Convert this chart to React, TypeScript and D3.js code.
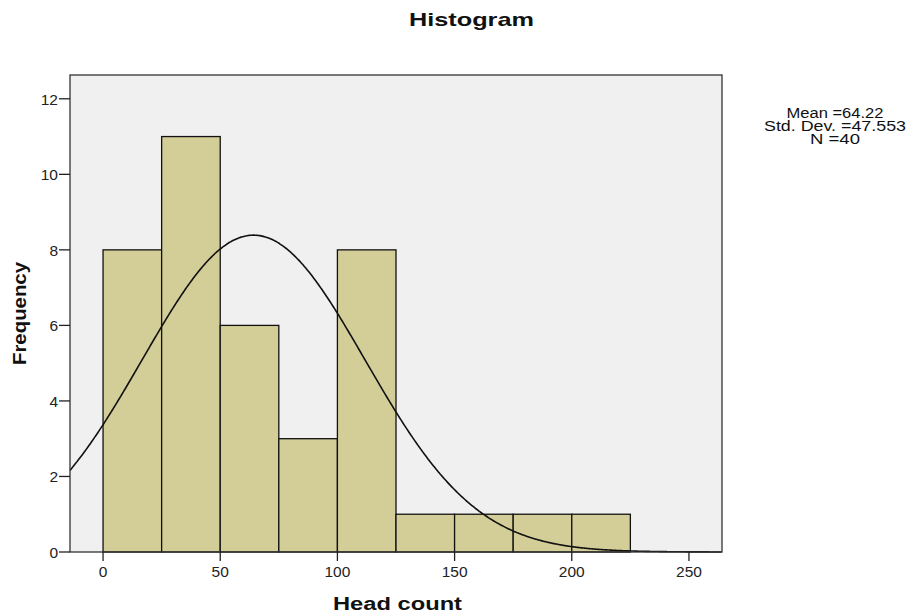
import * as d3 from "d3";

const binStarts = [0, 25, 50, 75, 100, 125, 150, 175, 200];
const binWidth = 25;
const counts = [8, 11, 6, 3, 8, 1, 1, 1, 1];
const xTicks = [0, 50, 100, 150, 200, 250];
const yTicks = [0, 2, 4, 6, 8, 10, 12];
const mean = 64.22;
const stdDev = 47.553;
const n = 40;
const statLines = ["Mean =64.22", "Std. Dev. =47.553", "N =40"];
const statWidths = [97, 142, 50];

const W = 908;
const H = 616;
const left = 70;
const right = 722;
const top = 75;
const bottom = 552;

const App = () => {
  const x = d3.scaleLinear().domain([-14.1, 264.1]).range([left, right]);
  const y = d3.scaleLinear().domain([0, 12.63]).range([bottom, top]);

  // normal curve scaled to the histogram
  const pdf = (v: number) =>
    (n * binWidth) / (stdDev * Math.sqrt(2 * Math.PI)) *
    Math.exp(-0.5 * ((v - mean) / stdDev) ** 2);
  const curvePts = d3.range(-14.1, 264.1, 0.5).map((v) => [v, pdf(v)] as [number, number]);
  const line = d3
    .line<[number, number]>()
    .x((d) => x(d[0]))
    .y((d) => y(d[1]))
    .curve(d3.curveBasis);

  const font = "'Liberation Sans', Arial, sans-serif";

  return (
    <svg
      width={W}
      height={H}
      style={{ position: "absolute", left: 0, top: 0, background: "#fff" }}
      fontFamily={font}
    >
      <text
        x={471.5}
        y={26}
        textAnchor="middle"
        fontSize={18.5}
        fontWeight="bold"
        fill="#111"
        textLength={125}
        lengthAdjust="spacingAndGlyphs"
      >
        Histogram
      </text>

      <rect x={left} y={top} width={right - left} height={bottom - top} fill="#f0f0f0" />

      {counts.map((c, i) => (
        <rect
          key={i}
          x={x(binStarts[i])}
          y={y(c)}
          width={x(binStarts[i] + binWidth) - x(binStarts[i])}
          height={bottom - y(c)}
          fill="#d3ce97"
          stroke="#111"
          strokeWidth={1.3}
        />
      ))}

      <path d={line(curvePts) || ""} fill="none" stroke="#111" strokeWidth={1.6} />

      <rect
        x={left}
        y={top}
        width={right - left}
        height={bottom - top}
        fill="none"
        stroke="#333"
        strokeWidth={1.3}
      />

      {yTicks.map((t) => (
        <g key={t}>
          <line x1={left - 11} x2={left} y1={y(t)} y2={y(t)} stroke="#222" strokeWidth={1.3} />
          <text x={left - 12} y={y(t) + 6} textAnchor="end" fontSize={15.5} fill="#222">
            {t}
          </text>
        </g>
      ))}

      {xTicks.map((t) => (
        <g key={t}>
          <line x1={x(t)} x2={x(t)} y1={bottom} y2={bottom + 9} stroke="#222" strokeWidth={1.3} />
          <text x={x(t)} y={bottom + 25} textAnchor="middle" fontSize={15.5} fill="#222">
            {t}
          </text>
        </g>
      ))}

      <text
        transform="translate(26, 313.5) rotate(-90)"
        textAnchor="middle"
        fontSize={18}
        fontWeight="bold"
        fill="#111"
        textLength={103}
        lengthAdjust="spacingAndGlyphs"
      >
        Frequency
      </text>
      <text
        x={397.5}
        y={610}
        textAnchor="middle"
        fontSize={18}
        fontWeight="bold"
        fill="#111"
        textLength={129}
        lengthAdjust="spacingAndGlyphs"
      >
        Head count
      </text>

      {statLines.map((s, i) => (
        <text
          key={s}
          x={835}
          y={118 + i * 13}
          textAnchor="middle"
          fontSize={14}
          fill="#111"
          textLength={statWidths[i]}
          lengthAdjust="spacingAndGlyphs"
        >
          {s}
        </text>
      ))}
    </svg>
  );
};

export default App;
